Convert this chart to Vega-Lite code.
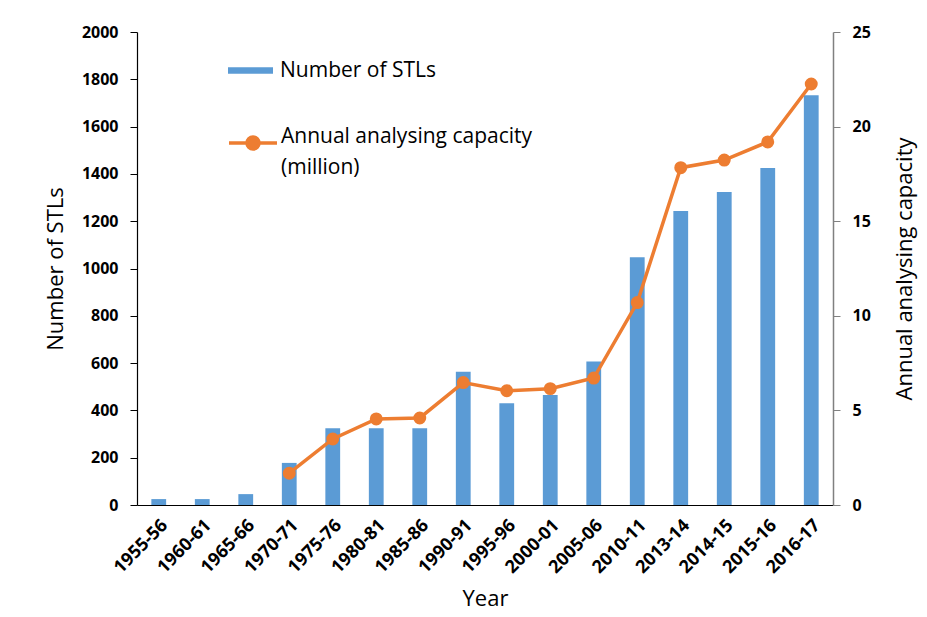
{
  "$schema": "https://vega.github.io/schema/vega-lite/v6.json",
  "autosize": {"type": "none"},
  "padding": {"left": 137, "top": 32, "right": 94, "bottom": 112},
  "width": 696,
  "height": 473,
  "background": "white",
  "config": {
    "view": {"stroke": null},
    "font": "Open Sans"
  },
  "data": {
    "values": [
      {"year": "1955-56", "stls": 25, "capacity": null},
      {"year": "1960-61", "stls": 25, "capacity": null},
      {"year": "1965-66", "stls": 46, "capacity": null},
      {"year": "1970-71", "stls": 178, "capacity": 1.68},
      {"year": "1975-76", "stls": 325, "capacity": 3.49},
      {"year": "1980-81", "stls": 325, "capacity": 4.55},
      {"year": "1985-86", "stls": 325, "capacity": 4.6},
      {"year": "1990-91", "stls": 563, "capacity": 6.47},
      {"year": "1995-96", "stls": 430, "capacity": 6.04},
      {"year": "2000-01", "stls": 465, "capacity": 6.15},
      {"year": "2005-06", "stls": 607, "capacity": 6.71},
      {"year": "2010-11", "stls": 1048, "capacity": 10.7},
      {"year": "2013-14", "stls": 1243, "capacity": 17.83},
      {"year": "2014-15", "stls": 1323, "capacity": 18.23},
      {"year": "2015-16", "stls": 1425, "capacity": 19.19},
      {"year": "2016-17", "stls": 1733, "capacity": 22.25}
    ]
  },
  "encoding": {
    "x": {
      "field": "year",
      "type": "ordinal",
      "sort": null,
      "scale": {"paddingInner": 0.66, "paddingOuter": 0.33},
      "axis": {
        "title": "Year",
        "titleFont": "Open Sans",
        "titleFontSize": 22,
        "titleFontWeight": "normal",
        "titleColor": "#000000",
        "titlePadding": 12,
        "labelAngle": -45,
        "labelFont": "Open Sans",
        "labelFontSize": 18,
        "labelFontWeight": "bold",
        "labelColor": "#000000",
        "labelPadding": 11,
        "ticks": false,
        "domainColor": "#000000",
        "domainWidth": 1.2,
        "grid": false
      }
    }
  },
  "layer": [
    {
      "mark": {"type": "bar", "color": "#5B9BD5"},
      "encoding": {
        "y": {
          "field": "stls",
          "type": "quantitative",
          "scale": {"domain": [0, 2000], "nice": false},
          "axis": {
            "title": "Number of STLs",
            "titleFont": "Open Sans",
            "titleFontSize": 22,
            "titleFontWeight": "normal",
            "titleColor": "#000000",
            "titlePadding": 14,
            "format": "d",
            "values": [0, 200, 400, 600, 800, 1000, 1200, 1400, 1600, 1800, 2000],
            "labelFont": "Open Sans",
            "labelFontSize": 16,
            "labelFontWeight": "bold",
            "labelColor": "#000000",
            "labelPadding": 12,
            "tickSize": 7,
            "tickColor": "#000000",
            "domainColor": "#000000",
            "domainWidth": 1.2,
            "grid": false
          }
        },
        "fill": {
          "datum": "Number of STLs",
          "type": "nominal",
          "scale": {"range": ["#5B9BD5"]},
          "legend": {
            "title": null,
            "orient": "none",
            "legendX": 91,
            "legendY": 16,
            "symbolType": "M-1,-0.14H1V0.14H-1Z",
            "symbolSize": 2025,
            "symbolStrokeWidth": 0,
            "labelFont": "Open Sans",
            "labelFontSize": 21,
            "labelColor": "#000000",
            "labelOffset": 7,
            "labelLimit": 0
          }
        }
      }
    },
    {
      "mark": {"type": "line", "strokeWidth": 3.5, "color": "#ED7D31", "point": {"filled": true, "size": 120, "color": "#ED7D31"}},
      "transform": [{"filter": "datum.capacity != null"}],
      "encoding": {
        "y": {
          "field": "capacity",
          "type": "quantitative",
          "scale": {"domain": [0, 25], "nice": false},
          "axis": {
            "title": "Annual analysing capacity",
            "orient": "right",
            "titleAngle": 270,
            "titleBaseline": "top",
            "titleFont": "Open Sans",
            "titleFontSize": 22,
            "titleFontWeight": "normal",
            "titleColor": "#000000",
            "titlePadding": 24,
            "values": [0, 5, 10, 15, 20, 25],
            "labelFont": "Open Sans",
            "labelFontSize": 16,
            "labelFontWeight": "bold",
            "labelColor": "#000000",
            "labelPadding": 12,
            "tickSize": 7,
            "tickColor": "#808080",
            "domainColor": "#808080",
            "domainWidth": 1.5,
            "grid": false
          }
        },
        "stroke": {
          "datum": "Annual analysing capacity",
          "type": "nominal",
          "scale": {"range": ["#ED7D31"]},
          "legend": {
            "title": null,
            "orient": "none",
            "legendX": 90,
            "legendY": 85,
            "symbolType": "M-1,0H-0.25A0.25,0.25,0,1,1,0.25,0A0.25,0.25,0,1,1,-0.25,0M0.25,0H1",
            "symbolSize": 2304,
            "symbolStrokeWidth": 3.5,
            "symbolFillColor": "#ED7D31",
            "symbolStrokeColor": "#ED7D31",
            "labelFont": "Open Sans",
            "labelFontSize": 21,
            "labelColor": "#000000",
            "labelOffset": 2,
            "labelLimit": 0,
            "labelExpr": "['Annual analysing capacity', '(million)']",
            "labelBaseline": "alphabetic",
            "encode": {"labels": {"update": {"lineHeight": {"value": 31}}}}
          }
        }
      }
    }
  ],
  "resolve": {"scale": {"y": "independent", "fill": "independent", "stroke": "independent"}}
}
